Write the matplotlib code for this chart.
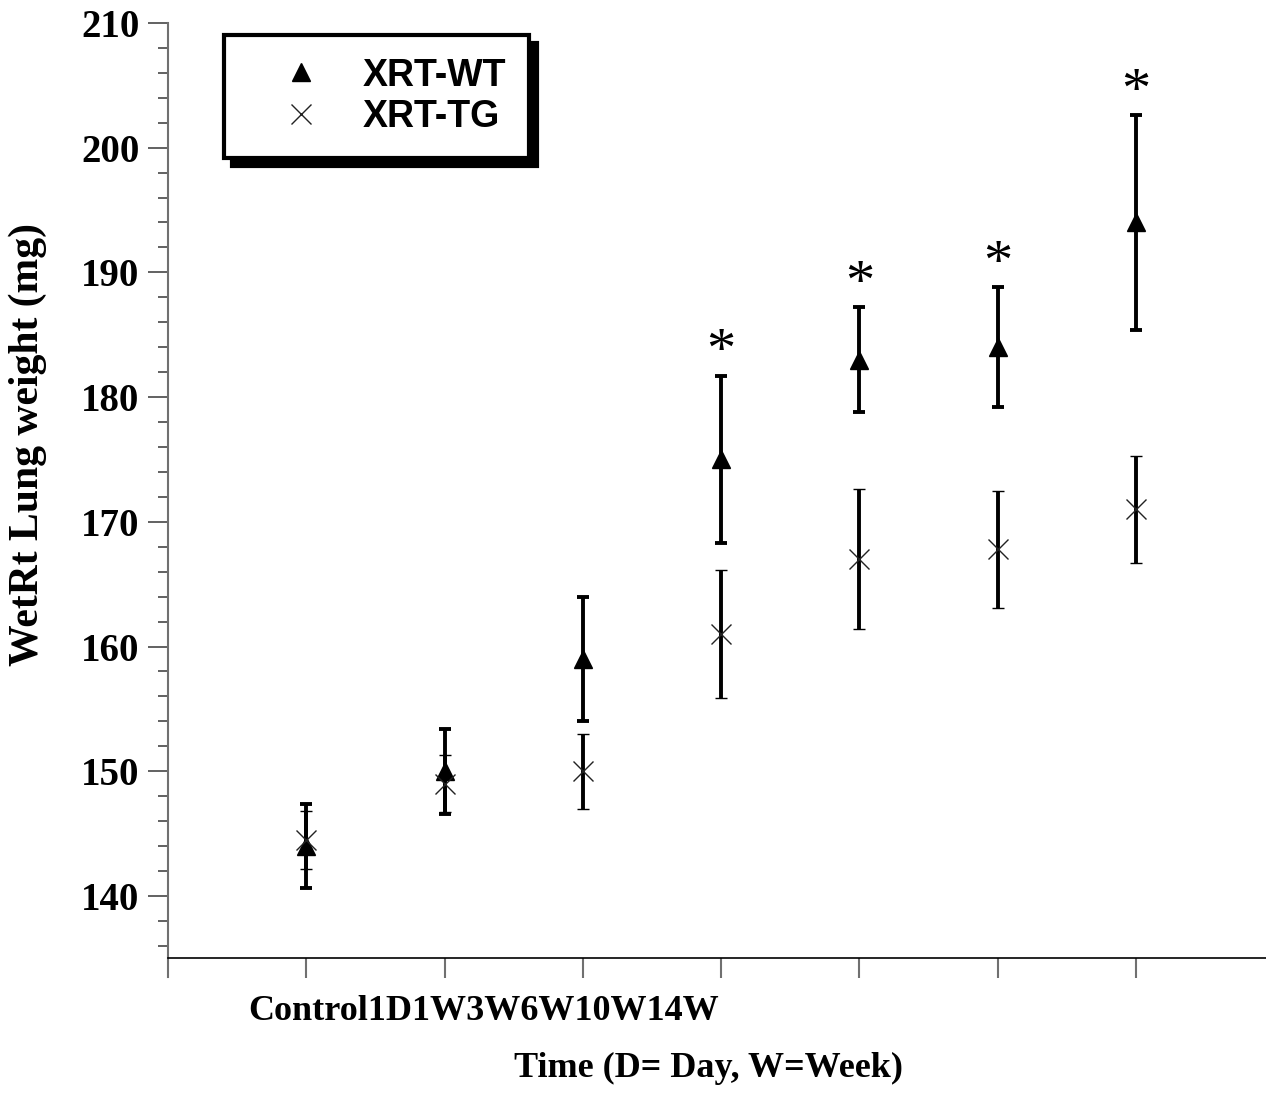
import matplotlib.pyplot as plt
from matplotlib.lines import Line2D
from matplotlib.ticker import FixedLocator

# vremenske tacke
times = ["Control", "1D", "1W", "3W", "6W", "10W", "14W"]
x_pos = [1, 2, 3, 4, 5, 6, 7]

# XRT-WT
wt_mean = [144.0, 150.0, 159.0, 175.0, 183.0, 184.0, 194.0]
wt_err = [3.4, 3.4, 5.0, 6.7, 4.2, 4.8, 8.6]

# XRT-TG
tg_mean = [144.5, 149.0, 150.0, 161.0, 167.0, 167.8, 171.0]
tg_err = [2.3, 2.3, 3.0, 5.1, 5.6, 4.7, 4.3]

signif = [False, False, False, True, True, True, True]

plt.rcParams["font.family"] = "Liberation Serif"
plt.rcParams["font.weight"] = "bold"

fig = plt.figure(figsize=(12.66, 10.93), dpi=100)
ax = fig.add_axes([0.1327, 0.1061, 0.8673, 0.8729])

ax.errorbar(x_pos, wt_mean, yerr=wt_err, fmt="^", color="black", ms=13.5,
            ecolor="black", elinewidth=2.8, capsize=4, capthick=2.8, zorder=3)
ax.errorbar(x_pos, tg_mean, yerr=tg_err, fmt="x", color="#222222", ms=14.5, mew=1.0,
            ecolor="black", elinewidth=2.8, capsize=4, capthick=2.8, zorder=4)

# zvezdice iznad WT
for x, m, e, s in zip(x_pos, wt_mean, wt_err, signif):
    if s:
        ax.text(x, m + e + 1.8, "*", ha="center", va="center", fontsize=42,
                weight="normal")

ax.set_xlim(0, 7.94)
ax.set_ylim(133.5, 210)
ax.spines["bottom"].set_position(("data", 135))
ax.spines["top"].set_visible(False)
ax.spines["right"].set_visible(False)
ax.spines["left"].set_color("#707070")
ax.spines["left"].set_linewidth(1.5)
ax.spines["bottom"].set_color("black")
ax.spines["bottom"].set_linewidth(1.2)

ax.set_xticks(x_pos)
ax.set_xticklabels([])
ax.tick_params(axis="x", length=14.4, width=1.5, color="#707070", direction="out")

ax.set_yticks(range(140, 211, 10))
ax.yaxis.set_minor_locator(FixedLocator([v for v in range(136, 210, 2) if v % 10]))
ax.tick_params(axis="y", which="major", length=14.4, width=1.3, color="#555555",
               labelsize=28, pad=6)
ax.tick_params(axis="y", which="minor", length=7.2, width=1.3, color="#555555")

fig.text(483.5 / 1266, 1 - 1012 / 1093, "".join(times), ha="center", va="center",
         fontsize=26, weight="bold")
fig.text(708 / 1266, 1 - 1068 / 1093, "Time (D= Day, W=Week)", ha="center",
         va="center", fontsize=26, weight="bold")
fig.text(28 / 1266, 1 - 445 / 1093, "WetRt Lung weight (mg)", ha="center",
         va="center", rotation=90, fontsize=30, weight="bold")

h_wt = Line2D([], [], marker="^", ls="none", color="black", ms=13.5)
h_tg = Line2D([], [], marker="x", ls="none", color="#222222", ms=14.5, mew=1.0)
leg = ax.legend([h_wt, h_tg], ["XRT-WT", "XRT-TG"], loc="upper left",
                bbox_to_anchor=(224 / 1266, 1 - 35 / 1093), bbox_transform=fig.transFigure,
                borderaxespad=0, fancybox=False, edgecolor="black", framealpha=1,
                handlelength=2.9, handletextpad=0.2, borderpad=0.6, labelspacing=0.15,
                prop={"family": "Liberation Sans", "weight": "bold", "size": 27},
                shadow={"ox": 5.8, "oy": -5.8, "color": "black", "alpha": 1})
leg.get_frame().set_linewidth(3)

fig.savefig("out.png", dpi=100)
